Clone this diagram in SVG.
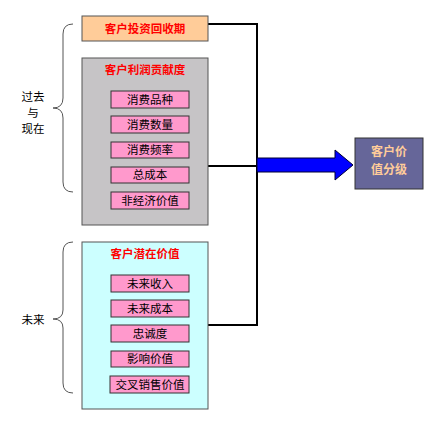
<svg xmlns="http://www.w3.org/2000/svg" width="440" height="434" viewBox="0 0 440 434">
<style>
.t{font-family:"Noto Sans CJK SC","Liberation Sans",sans-serif;font-size:11.5px;fill:#000;text-anchor:middle}
.h{font-family:"Noto Sans CJK SC","Liberation Sans",sans-serif;font-size:11.5px;font-weight:bold;fill:#FF0000;text-anchor:middle}
.p{fill:#FF99CC;stroke:#333;stroke-width:1}
.box{stroke:#555;stroke-width:1}
.br{fill:none;stroke:#555;stroke-width:1}
.c{fill:none;stroke:#000;stroke-width:2}
.g{font-family:"Noto Sans CJK SC","Liberation Serif",serif;font-size:12px;font-weight:bold;fill:#FFCC99;text-anchor:middle}
</style>
<rect width="440" height="434" fill="#fff"/>
<g id="connectors">
<polyline class="c" points="208,24 257,24 257,325 208,325"/>
<line class="c" x1="208" y1="166" x2="257" y2="166"/>
<polygon points="257,158 335,158 335,150 353,165 335,180 335,172 257,172" fill="#0000FF" stroke="#000033" stroke-width="1"/>
</g>
<g id="brace-past">
<path class="br" d="M73,24 Q63,24 63,34 L63,98 Q63,108 53,108 Q63,108 63,118 L63,182 Q63,192 73,192"/>
<text class="t" x="33" y="101">过去</text>
<text class="t" x="33" y="117">与</text>
<text class="t" x="33" y="133">现在</text>
</g>
<g id="brace-future">
<path class="br" d="M73,242 Q63,242 63,252 L63,310 Q63,319 53,319 Q63,319 63,328 L63,383 Q63,393 73,393"/>
<text class="t" x="33" y="324">未来</text>
</g>
<g id="node-payback">
<rect class="box" x="82" y="16" width="126" height="25" fill="#FFCC99"/>
<text class="h" x="145" y="33">客户投资回收期</text>
</g>
<g id="node-profit">
<rect class="box" x="82" y="58" width="126" height="167" fill="#C6C4C6"/>
<text class="h" x="145" y="74">客户利润贡献度</text>
<rect class="p" x="111" y="91" width="78" height="17"/><text class="t" x="150" y="104">消费品种</text>
<rect class="p" x="111" y="116" width="78" height="17"/><text class="t" x="150" y="129">消费数量</text>
<rect class="p" x="111" y="142" width="78" height="16"/><text class="t" x="150" y="154">消费频率</text>
<rect class="p" x="111" y="167" width="78" height="16"/><text class="t" x="150" y="179">总成本</text>
<rect class="p" x="111" y="192" width="78" height="17"/><text class="t" x="150" y="205">非经济价值</text>
</g>
<g id="node-potential">
<rect class="box" x="82" y="242" width="126" height="167" fill="#CCFFFF"/>
<text class="h" x="145" y="258">客户潜在价值</text>
<rect class="p" x="111" y="275" width="78" height="17"/><text class="t" x="150" y="288">未来收入</text>
<rect class="p" x="111" y="300" width="78" height="17"/><text class="t" x="150" y="313">未来成本</text>
<rect class="p" x="111" y="325" width="78" height="17"/><text class="t" x="150" y="338">忠诚度</text>
<rect class="p" x="111" y="351" width="78" height="16"/><text class="t" x="150" y="363">影响价值</text>
<rect class="p" x="110" y="376" width="79" height="17"/><text class="t" x="150" y="389">交叉销售价值</text>
</g>
<g id="node-grade">
<rect x="355" y="138" width="68" height="51" fill="#666699" stroke="#333" stroke-width="1"/>
<text class="g" x="389" y="156">客户价</text>
<text class="g" x="389" y="174">值分级</text>
</g>
</svg>
